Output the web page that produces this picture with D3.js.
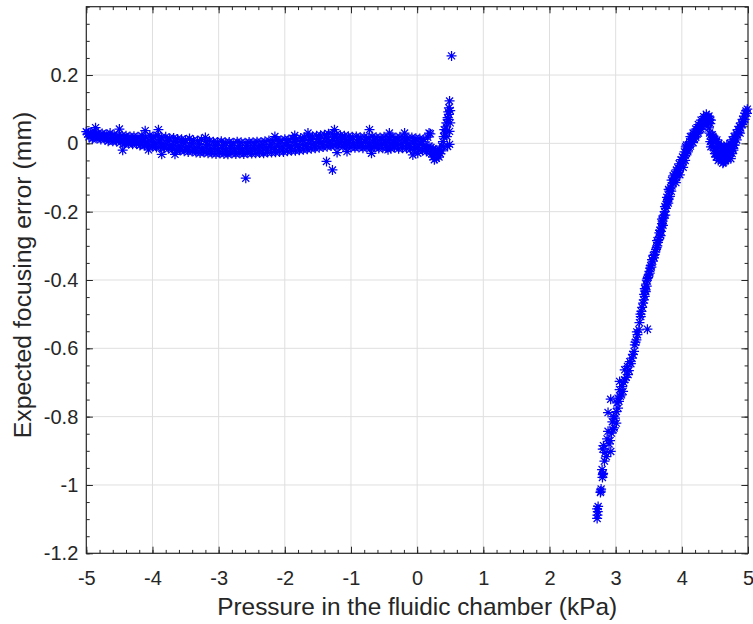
<!DOCTYPE html>
<html>
<head>
<meta charset="utf-8">
<script src="https://cdn.jsdelivr.net/npm/d3@7"></script>
<style>
  body { margin: 0; background: #fff; }
  svg { display: block; }
  text { font-family: Arial, "Liberation Sans", Helvetica, sans-serif; fill: #262626; }
</style>
</head>
<body>
<svg id="chart" width="753" height="624"></svg>
<script>
// ---- Axis settings ----
const pressureDomain = [-5, 5];          // kPa
const errorDomain = [-1.2, 0.4];         // mm
const pressureTicks = [-5, -4, -3, -2, -1, 0, 1, 2, 3, 4, 5];
const errorTicks = [-1.2, -1, -0.8, -0.6, -0.4, -0.2, 0, 0.2];
const xTitle = "Pressure in the fluidic chamber (kPa)";
const yTitle = "Expected focusing error (mm)";

// ---- Negative-pressure sweep: [pressure kPa, focusing error mm] ----
const sweepUpper = [[-5.00,0.034],[-4.94,0.031],[-4.88,0.036],[-4.82,0.030],[-4.76,0.029],[-4.70,0.027],[-4.64,0.030],[-4.58,0.025],[-4.52,0.024],[-4.46,0.023],[-4.40,0.022],[-4.34,0.020],[-4.28,0.021],[-4.22,0.019],[-4.16,0.022],[-4.10,0.018],[-4.04,0.024],[-3.98,0.020],[-3.92,0.023],[-3.86,0.017],[-3.80,0.019],[-3.74,0.015],[-3.68,0.016],[-3.62,0.013],[-3.56,0.012],[-3.50,0.010],[-3.44,0.014],[-3.38,0.009],[-3.32,0.008],[-3.26,0.011],[-3.20,0.006],[-3.14,0.007],[-3.08,0.005],[-3.02,0.004],[-2.96,0.006],[-2.90,0.003],[-2.84,0.004],[-2.78,0.002],[-2.72,0.005],[-2.66,0.003],[-2.60,0.002],[-2.54,0.004],[-2.48,0.003],[-2.42,0.005],[-2.36,0.004],[-2.30,0.006],[-2.24,0.008],[-2.18,0.007],[-2.12,0.010],[-2.06,0.009],[-2.00,0.012],[-1.94,0.011],[-1.88,0.014],[-1.82,0.013],[-1.76,0.016],[-1.70,0.018],[-1.64,0.019],[-1.58,0.021],[-1.52,0.022],[-1.46,0.024],[-1.40,0.025],[-1.34,0.028],[-1.28,0.027],[-1.22,0.026],[-1.16,0.024],[-1.10,0.022],[-1.04,0.021],[-0.98,0.019],[-0.92,0.020],[-0.86,0.018],[-0.80,0.019],[-0.74,0.017],[-0.68,0.020],[-0.62,0.018],[-0.56,0.017],[-0.50,0.019],[-0.44,0.018],[-0.38,0.020],[-0.32,0.017],[-0.26,0.019],[-0.20,0.018],[-0.14,0.016],[-0.08,0.017],[-0.02,0.015],[0.04,0.014],[0.10,0.012],[0.16,0.018]];

const sweepMiddle = [[-4.98,0.027],[-4.92,0.024],[-4.86,0.022],[-4.80,0.021],[-4.74,0.019],[-4.68,0.017],[-4.62,0.018],[-4.56,0.014],[-4.50,0.013],[-4.44,0.012],[-4.38,0.010],[-4.32,0.009],[-4.26,0.008],[-4.20,0.007],[-4.14,0.006],[-4.08,0.004],[-4.02,0.005],[-3.96,0.003],[-3.90,0.002],[-3.84,0.000],[-3.78,-0.002],[-3.72,-0.004],[-3.66,-0.005],[-3.60,-0.006],[-3.54,-0.008],[-3.48,-0.009],[-3.42,-0.010],[-3.36,-0.011],[-3.30,-0.012],[-3.24,-0.013],[-3.18,-0.013],[-3.12,-0.014],[-3.06,-0.014],[-3.00,-0.015],[-2.94,-0.015],[-2.88,-0.016],[-2.82,-0.015],[-2.76,-0.016],[-2.70,-0.015],[-2.64,-0.016],[-2.58,-0.015],[-2.52,-0.014],[-2.46,-0.015],[-2.40,-0.013],[-2.34,-0.014],[-2.28,-0.012],[-2.22,-0.011],[-2.16,-0.011],[-2.10,-0.009],[-2.04,-0.008],[-1.98,-0.007],[-1.92,-0.006],[-1.86,-0.005],[-1.80,-0.004],[-1.74,-0.003],[-1.68,-0.002],[-1.62,0.000],[-1.56,0.001],[-1.50,0.003],[-1.44,0.004],[-1.38,0.006],[-1.32,0.007],[-1.26,0.008],[-1.20,0.007],[-1.14,0.005],[-1.08,0.004],[-1.02,0.003],[-0.96,0.002],[-0.90,0.002],[-0.84,0.001],[-0.78,0.003],[-0.72,0.001],[-0.66,0.002],[-0.60,0.001],[-0.54,0.000],[-0.48,0.002],[-0.42,0.001],[-0.36,0.002],[-0.30,0.000],[-0.24,0.001],[-0.18,0.002],[-0.12,0.000],[-0.06,-0.001],[0.00,-0.002],[0.06,-0.003],[0.12,-0.006],[0.18,-0.008]];

const sweepLower = [[-4.96,0.019],[-4.90,0.016],[-4.84,0.014],[-4.78,0.011],[-4.72,0.012],[-4.66,0.009],[-4.60,0.006],[-4.54,0.005],[-4.48,0.003],[-4.42,0.001],[-4.36,-0.001],[-4.30,-0.003],[-4.24,-0.002],[-4.18,-0.004],[-4.12,-0.006],[-4.06,-0.008],[-4.00,-0.010],[-3.94,-0.012],[-3.88,-0.011],[-3.82,-0.014],[-3.76,-0.016],[-3.70,-0.018],[-3.64,-0.020],[-3.58,-0.021],[-3.52,-0.023],[-3.46,-0.025],[-3.40,-0.024],[-3.34,-0.027],[-3.28,-0.028],[-3.22,-0.027],[-3.16,-0.029],[-3.10,-0.030],[-3.04,-0.031],[-2.98,-0.030],[-2.92,-0.031],[-2.86,-0.032],[-2.80,-0.030],[-2.74,-0.031],[-2.68,-0.030],[-2.62,-0.031],[-2.56,-0.029],[-2.50,-0.030],[-2.44,-0.029],[-2.38,-0.028],[-2.32,-0.029],[-2.26,-0.027],[-2.20,-0.027],[-2.14,-0.026],[-2.08,-0.025],[-2.02,-0.025],[-1.96,-0.023],[-1.90,-0.022],[-1.84,-0.022],[-1.78,-0.020],[-1.72,-0.019],[-1.66,-0.017],[-1.60,-0.016],[-1.54,-0.014],[-1.48,-0.013],[-1.42,-0.011],[-1.36,-0.010],[-1.30,-0.008],[-1.24,-0.007],[-1.18,-0.008],[-1.12,-0.010],[-1.06,-0.011],[-1.00,-0.012],[-0.94,-0.013],[-0.88,-0.012],[-0.82,-0.014],[-0.76,-0.013],[-0.70,-0.014],[-0.64,-0.012],[-0.58,-0.015],[-0.52,-0.014],[-0.46,-0.013],[-0.40,-0.015],[-0.34,-0.013],[-0.28,-0.016],[-0.22,-0.014],[-0.16,-0.015],[-0.10,-0.017],[-0.04,-0.018],[0.02,-0.020],[0.08,-0.022],[0.14,-0.024],[0.20,-0.026]];

const sweepInterleaved = [[-4.97,0.030],[-4.91,0.013],[-4.85,0.026],[-4.79,0.016],[-4.73,0.024],[-4.67,0.006],[-4.61,0.022],[-4.55,0.008],[-4.49,0.019],[-4.43,-0.002],[-4.37,0.016],[-4.31,0.002],[-4.25,0.014],[-4.19,-0.006],[-4.13,0.013],[-4.07,-0.004],[-4.01,0.016],[-3.95,-0.008],[-3.89,0.011],[-3.83,-0.010],[-3.77,0.008],[-3.71,-0.013],[-3.65,0.006],[-3.59,-0.017],[-3.53,0.003],[-3.47,-0.019],[-3.41,0.001],[-3.35,-0.022],[-3.29,-0.002],[-3.23,-0.022],[-3.17,-0.004],[-3.11,-0.024],[-3.05,-0.006],[-2.99,-0.025],[-2.93,-0.005],[-2.87,-0.026],[-2.81,-0.007],[-2.75,-0.024],[-2.69,-0.006],[-2.63,-0.025],[-2.57,-0.006],[-2.51,-0.024],[-2.45,-0.005],[-2.39,-0.022],[-2.33,-0.004],[-2.27,-0.020],[-2.21,-0.002],[-2.15,-0.019],[-2.09,0.001],[-2.03,-0.017],[-1.97,0.003],[-1.91,-0.015],[-1.85,0.006],[-1.79,-0.013],[-1.73,0.009],[-1.67,-0.010],[-1.61,0.012],[-1.55,-0.008],[-1.49,0.014],[-1.43,-0.004],[-1.37,0.018],[-1.31,-0.002],[-1.25,0.018],[-1.19,-0.003],[-1.13,0.015],[-1.07,-0.005],[-1.01,0.012],[-0.95,-0.007],[-0.89,0.011],[-0.83,-0.007],[-0.77,0.012],[-0.71,-0.008],[-0.65,0.010],[-0.59,-0.008],[-0.53,0.011],[-0.47,-0.007],[-0.41,0.012],[-0.35,-0.008],[-0.29,0.010],[-0.23,-0.008],[-0.17,0.010],[-0.11,-0.010],[-0.05,0.008],[0.01,-0.012],[0.07,0.006],[0.13,-0.016]];

// Readings that stand off the main band
const sweepStrays = [[-4.86,0.046],[-4.50,0.042],[-4.11,0.037],[-3.91,0.040],[-3.20,0.017],[-2.15,0.020],[-1.85,0.023],[-1.65,0.030],[-1.25,0.040],[-0.72,0.040],[-0.42,0.030],[-0.19,0.030],[-4.06,-0.019],[-3.86,-0.032],[-3.66,-0.032],[-0.69,-0.029],[-0.44,-0.019],[-0.065,-0.034],[0.01,-0.029],[-4.45,-0.020],[-2.59,-0.102],[-1.37,-0.053],[-1.28,-0.078],[-1.21,-0.027],[-1.06,-0.024]];

// Jump around 0.2 - 0.5 kPa
const zeroCrossing = [[0.18,0.030],[0.20,0.028],[0.21,-0.012],[0.22,-0.030],[0.24,-0.015],[0.24,-0.040],[0.26,-0.048],[0.27,-0.030],[0.28,-0.022],[0.29,-0.044],[0.31,-0.036],[0.31,-0.028],[0.33,-0.040],[0.34,-0.019],[0.35,-0.030],[0.37,-0.008],[0.37,-0.022],[0.39,0.005],[0.40,-0.010],[0.40,0.020],[0.41,0.040],[0.42,0.030],[0.44,0.060],[0.44,0.048],[0.45,0.020],[0.46,0.075],[0.46,-0.009],[0.47,0.092],[0.47,0.070],[0.48,0.104],[0.48,0.085],[0.49,0.124],[0.49,0.035],[0.50,0.096],[0.50,0.060],[0.49,-0.003],[0.52,0.256]];

// ---- Positive-pressure sweep ----
const riseLower = [[2.72,-1.098],[2.725,-1.088],[2.73,-1.078],[2.72,-1.070],[2.735,-1.063],[2.77,-1.022],[2.78,-1.012],[2.775,-1.018],[2.80,-0.978],[2.81,-0.966],[2.795,-0.955],[2.805,-0.970],[2.83,-0.930],[2.805,-0.895],[2.926,-0.902],[2.86,-0.917],[2.84,-0.905],[2.815,-0.885],[2.90,-0.880],[2.87,-0.865],[2.915,-0.870],[2.885,-0.843],[2.976,-0.833],[3.01,-0.819],[2.937,-0.848],[2.99,-0.804],[2.96,-0.838],[2.95,-0.815],[2.97,-0.800],[2.885,-0.788],[3.01,-0.785],[3.036,-0.775],[3.02,-0.760],[2.925,-0.749],[3.088,-0.736],[3.036,-0.746],[3.112,-0.726],[3.06,-0.721],[3.07,-0.740],[3.05,-0.755],[3.06,-0.697],[3.10,-0.712],[3.12,-0.700],[3.137,-0.692],[3.187,-0.677],[3.137,-0.663],[3.178,-0.653],[3.16,-0.685],[3.20,-0.665],[3.213,-0.639],[3.248,-0.629],[3.23,-0.645],[3.278,-0.609],[3.26,-0.618],[3.29,-0.590],[3.314,-0.575],[3.33,-0.560],[3.35,-0.546],[3.30,-0.582],[3.32,-0.552],[3.48,-0.544],[3.38,-0.507],[3.39,-0.492],[3.375,-0.500],[3.36,-0.525],[3.415,-0.468],[3.40,-0.480],[3.44,-0.448],[3.455,-0.434],[3.425,-0.458],[3.43,-0.442]];

const riseUpper = [[3.44,-0.425],[3.46,-0.412],[3.47,-0.400],[3.45,-0.430],[3.48,-0.395],[3.50,-0.385],[3.51,-0.375],[3.52,-0.365],[3.53,-0.358],[3.515,-0.380],[3.56,-0.345],[3.58,-0.335],[3.59,-0.325],[3.60,-0.318],[3.61,-0.310],[3.63,-0.300],[3.64,-0.290],[3.65,-0.282],[3.66,-0.275],[3.68,-0.270],[3.67,-0.255],[3.69,-0.245],[3.70,-0.235],[3.71,-0.228],[3.72,-0.218],[3.73,-0.212],[3.74,-0.200],[3.76,-0.190],[3.77,-0.180],[3.78,-0.170],[3.79,-0.165],[3.80,-0.160],[3.82,-0.155],[3.81,-0.140],[3.83,-0.130],[3.85,-0.125],[3.86,-0.115],[3.88,-0.110],[3.90,-0.105],[3.92,-0.100],[3.87,-0.095],[3.93,-0.090],[3.95,-0.085],[3.94,-0.072],[3.96,-0.080],[3.98,-0.068],[4.00,-0.060],[4.02,-0.055],[3.99,-0.048],[4.03,-0.042],[4.05,-0.035],[4.04,-0.025],[4.07,-0.030],[4.08,-0.018],[4.06,-0.010],[4.10,-0.005],[4.12,0.005],[4.11,-0.012],[4.14,0.012],[4.16,0.018],[4.15,0.005],[4.18,0.022],[4.20,0.028],[4.19,0.014],[4.22,0.035],[4.24,0.040],[4.23,0.028],[4.26,0.048],[4.28,0.052],[4.27,0.040],[4.30,0.060],[4.32,0.064],[4.31,0.050],[4.34,0.070],[4.36,0.075],[4.35,0.062],[4.38,0.078],[4.40,0.074],[4.39,0.064],[4.42,0.070],[4.43,0.058]];

const riseUpperSpread = [[3.47,-0.418],[3.49,-0.392],[3.54,-0.362],[3.55,-0.340],[3.57,-0.328],[3.62,-0.305],[3.625,-0.285],[3.66,-0.262],[3.685,-0.258],[3.70,-0.222],[3.715,-0.240],[3.745,-0.185],[3.75,-0.210],[3.775,-0.158],[3.795,-0.175],[3.80,-0.135],[3.84,-0.140],[3.845,-0.108],[3.89,-0.090],[3.91,-0.115],[3.92,-0.078],[3.96,-0.060],[3.97,-0.092],[4.01,-0.040],[4.02,-0.070],[4.05,-0.050],[4.07,-0.005],[4.09,-0.025],[4.13,-0.008],[4.13,0.020],[4.17,0.030],[4.17,0.002],[4.21,0.018],[4.21,0.042],[4.25,0.055],[4.25,0.030],[4.29,0.042],[4.29,0.068],[4.33,0.078],[4.33,0.055],[4.37,0.085],[4.37,0.065],[4.41,0.080],[4.44,0.068],[4.40,0.058]];

const humpAndDip = [[4.41,0.045],[4.42,0.030],[4.44,0.025],[4.45,0.012],[4.43,0.005],[4.47,0.020],[4.46,0.000],[4.48,-0.010],[4.50,0.012],[4.49,-0.020],[4.52,0.005],[4.51,-0.030],[4.53,-0.015],[4.55,-0.005],[4.54,-0.038],[4.56,-0.025],[4.58,-0.012],[4.57,-0.045],[4.59,-0.035],[4.61,-0.020],[4.60,-0.050],[4.62,-0.058],[4.63,-0.040],[4.64,-0.025],[4.65,-0.052],[4.66,-0.035],[4.67,-0.015],[4.68,-0.045],[4.69,-0.028],[4.70,-0.010],[4.71,-0.035],[4.72,-0.020],[4.73,0.000],[4.74,-0.025],[4.75,-0.008],[4.76,0.010],[4.77,-0.015],[4.78,0.005],[4.79,0.020],[4.80,-0.005],[4.81,0.015],[4.82,0.030],[4.84,0.025],[4.85,0.040],[4.86,0.032],[4.87,0.050],[4.89,0.045],[4.90,0.060],[4.91,0.055],[4.92,0.070],[4.93,0.065],[4.94,0.080],[4.96,0.088],[4.97,0.095],[4.99,0.100],[4.985,0.088]];

const dipFill = [[4.44,-0.010],[4.46,0.025],[4.48,0.015],[4.50,-0.030],[4.52,-0.040],[4.53,0.010],[4.55,-0.050],[4.56,0.000],[4.58,-0.030],[4.60,-0.010],[4.61,-0.040],[4.63,-0.055],[4.64,-0.010],[4.66,-0.050],[4.67,-0.030],[4.68,-0.005],[4.70,-0.045],[4.71,-0.015],[4.73,-0.030],[4.74,-0.045],[4.76,-0.030],[4.78,-0.020],[4.79,-0.005],[4.83,0.010],[4.88,0.030],[4.95,0.070]];

const allSeries = [sweepUpper, sweepMiddle, sweepLower, sweepInterleaved, sweepStrays, zeroCrossing,
                   riseLower, riseUpper, riseUpperSpread, humpAndDip, dipFill];

// ---- Layout ----
const svg = d3.select("#chart");
const box = { left: 86.3, right: 748, top: 6.7, bottom: 553.3 };
const ink = "#262626";
const x = d3.scaleLinear().domain(pressureDomain).range([box.left, box.right]);
const y = d3.scaleLinear().domain(errorDomain).range([box.bottom, box.top]);
const plotW = box.right - box.left, plotH = box.bottom - box.top;
const majorLen = 6.6, minorLen = 3.4;

// Grid lines at major ticks
const grid = svg.append("g").attr("stroke", "#dfdfdf").attr("stroke-width", 1);
grid.selectAll(".gx").data(pressureTicks.slice(1, -1)).join("line")
  .attr("x1", d => x(d)).attr("x2", d => x(d)).attr("y1", box.top).attr("y2", box.bottom);
grid.selectAll(".gy").data(errorTicks.slice(1)).join("line")
  .attr("y1", d => y(d)).attr("y2", d => y(d)).attr("x1", box.left).attr("x2", box.right);

// Tick marks pointing inward on all four sides
function tickLayer(axisFn, scale, values, len, tx, ty, labels, pad) {
  const a = axisFn(scale).tickValues(values).tickSizeInner(-len).tickSizeOuter(0)
    .tickPadding(pad || 0)
    .tickFormat(labels ? (d => String(d)) : () => "");
  const g = svg.append("g").attr("transform", `translate(${tx},${ty})`).call(a);
  g.attr("font-family", null).attr("font-size", 20);
  g.select(".domain").remove();
  g.selectAll(".tick line").attr("stroke", ink).attr("stroke-width", 1);
  g.selectAll(".tick text").attr("fill", ink);
  return g;
}
const xMinor = x.ticks(50), yMinor = y.ticks(32);
tickLayer(d3.axisBottom, x, xMinor, minorLen, 0, box.bottom, false);
tickLayer(d3.axisTop, x, xMinor, minorLen, 0, box.top, false);
tickLayer(d3.axisLeft, y, yMinor, minorLen, box.left, 0, false);
tickLayer(d3.axisRight, y, yMinor, minorLen, box.right, 0, false);
tickLayer(d3.axisBottom, x, pressureTicks, majorLen, 0, box.bottom, true, 18);
tickLayer(d3.axisTop, x, pressureTicks, majorLen, 0, box.top, false);
tickLayer(d3.axisLeft, y, errorTicks, majorLen, box.left, 0, true, 8);
tickLayer(d3.axisRight, y, errorTicks, majorLen, box.right, 0, false);

// Axes box
svg.append("rect").attr("x", box.left).attr("y", box.top).attr("width", plotW).attr("height", plotH)
  .attr("fill", "none").attr("stroke", ink).attr("stroke-width", 1.2);

// Asterisk markers
const r = 5, k = r * Math.SQRT1_2;
const star = `M${-r},0L${r},0M0,${-r}L0,${r}M${-k},${-k}L${k},${k}M${-k},${k}L${k},${-k}`;
const marks = svg.append("g").attr("fill", "none").attr("stroke", "#0000ff").attr("stroke-width", 1.25);
allSeries.forEach(series => {
  marks.append("g").selectAll("path").data(series).join("path")
    .attr("d", star)
    .attr("transform", d => `translate(${x(d[0])},${y(d[1])})`);
});

// Axis titles
svg.append("text").attr("x", (box.left + box.right) / 2).attr("y", 615)
  .attr("text-anchor", "middle").attr("font-size", 24.4).text(xTitle);
svg.append("text").attr("transform", `translate(31,275) rotate(-90)`)
  .attr("text-anchor", "middle").attr("font-size", 24.8).text(yTitle);
</script>
</body>
</html>
